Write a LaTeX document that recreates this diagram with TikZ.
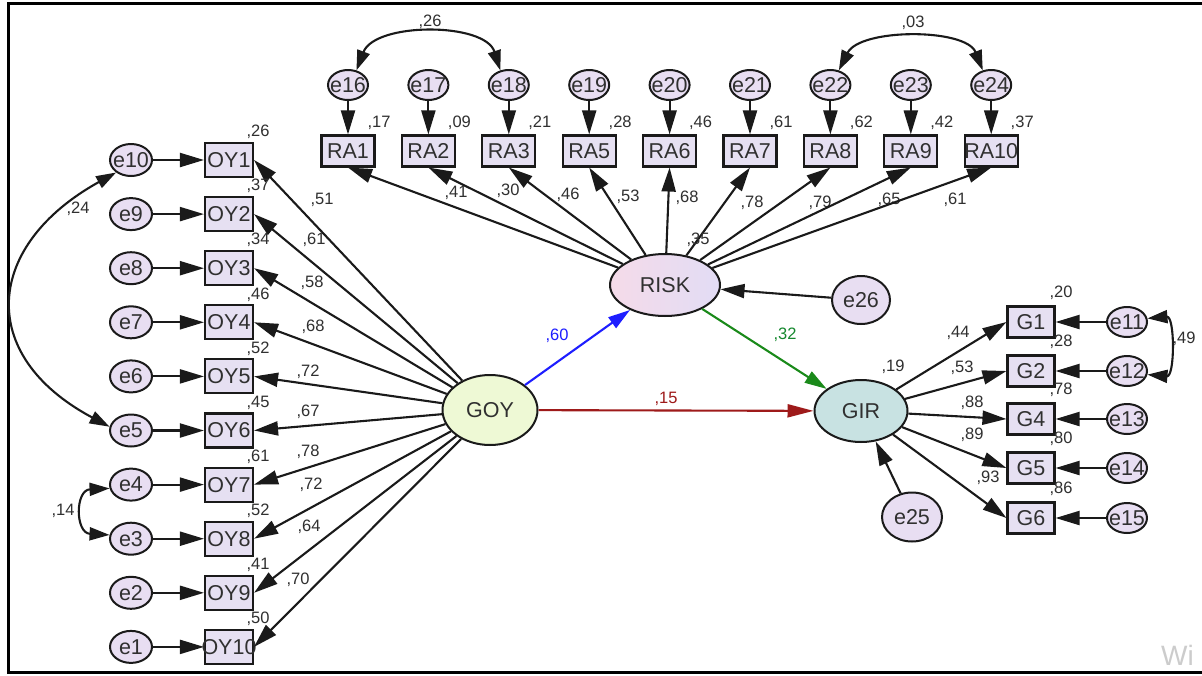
\documentclass[tikz,border=0pt]{standalone}
\usepackage{fontspec}
\setmainfont{Liberation Sans}
\usetikzlibrary{arrows.meta,shapes.geometric}
\definecolor{boxfill}{HTML}{E6E0F2}
\definecolor{errfill}{HTML}{E8DEF2}
\definecolor{goyfill}{HTML}{EEF9D5}
\definecolor{girfill}{HTML}{C8E2E2}
\definecolor{riskL}{HTML}{F5DBE9}
\definecolor{riskR}{HTML}{E2DCF5}
\definecolor{linec}{HTML}{1A1A1A}
\definecolor{txtc}{HTML}{303030}
\definecolor{bluec}{HTML}{1E1EFF}
\definecolor{greenc}{HTML}{1A8A1A}
\definecolor{redc}{HTML}{9E1A1A}
\newcommand\lblfont{\fontsize{21.5}{21.5}\selectfont}
\newcommand\valfont{\fontsize{16.5}{16.5}\selectfont}
\begin{document}
\begin{tikzpicture}[x=1pt,y=-1pt,
  obs/.style={draw=linec,line width=2.1pt,fill=boxfill,inner sep=0pt,
    minimum width=48pt,minimum height=34pt,font=\lblfont,text=txtc},
  err/.style={ellipse,draw=linec,line width=2pt,fill=errfill,inner sep=0pt,
    minimum width=42pt,minimum height=32pt,font=\lblfont,text=txtc},
  lat/.style={ellipse,draw=linec,line width=2pt,inner sep=0pt,font=\lblfont,text=txtc},
  val/.style={font=\valfont,text=txtc,inner sep=0pt},
  arr/.style={draw=linec,line width=2.1pt,-{Triangle[length=24pt,width=14pt]}},
  cov/.style={draw=linec,line width=2.1pt,{Triangle[length=20pt,width=13pt]}-{Triangle[length=20pt,width=13pt]}}
]
\useasboundingbox (0,0) rectangle (1202,675);
\clip (0,0) rectangle (1202,675);
\fill[white] (0,0) rectangle (1202,675);
\draw[line width=3pt,black] (8,3) rectangle (1220,672);
\node[font=\fontsize{28}{28}\selectfont,text=black!20,anchor=west,inner sep=0] (wm) at (1161,655) {Wi};

% latent variables
\node[lat,fill=goyfill,minimum width=95pt,minimum height=70pt] (goy) at (490,410) {GOY};
\node[lat,left color=riskL,right color=riskR,minimum width=110pt,minimum height=62pt] (risk) at (665,285) {RISK};
\node[lat,fill=girfill,minimum width=93pt,minimum height=62pt] (gir) at (861,411) {GIR};
\node[err,minimum width=58pt,minimum height=48pt] (e26) at (861,300) {\makebox[0pt]{e26}};
\node[err,minimum width=60pt,minimum height=49pt] (e25) at (912,517) {\makebox[0pt]{e25}};

% left column
\foreach \k/\v/\lx/\ly/\lv in {1/26/322/200/51,2/37/314/240/61,3/34/312/283/58,4/46/313/327/68,5/52/308/372/72,
  6/45/308/412/67,7/61/308/452/78,8/52/311/485/72,9/41/309/527/64,10/50/298/580/70}{
  \pgfmathsetmacro\yy{160+(\k-1)*54.1}
  \pgfmathtruncatemacro\ee{11-\k}
  \node[obs] (OY\k) at (229,\yy) {\makebox[0pt]{OY\k}};
  \node[err] (e\ee) at (131,\yy) {\makebox[0pt]{e\ee}};
  \node[val] (vOY\k) at (258,\yy-28) {,\v};
  \node[val] (lOY\k) at (\lx,\ly) {,\lv};
  \draw[arr] (e\ee) -- (OY\k);
  \draw[arr] (goy) -- (OY\k.east);
}

% top row
\foreach \i/\n/\ee/\v/\lx/\ly/\lv in {0/1/16/17/456/193/41,1/2/17/09/508/191/30,2/3/18/21/568/195/46,
  3/5/19/28/628/197/53,4/6/20/46/687/198/68,5/7/21/61/752/203/78,6/8/22/62/820/203/79,
  7/9/23/42/889/200/65,8/10/24/37/955/200/61}{
  \pgfmathsetmacro\xx{348+\i*80.4}
  \node[obs,minimum width=53pt,minimum height=31pt] (RA\n) at (\xx,151) {\makebox[0pt]{RA\n}};
  \node[err,minimum width=40pt,minimum height=30pt] (e\ee) at (\xx,85) {\makebox[0pt]{e\ee}};
  \node[val] (vRA\n) at (\xx+31,123) {,\v};
  \node[val] (lRA\n) at (\lx,\ly) {,\lv};
  \draw[arr] (e\ee) -- (RA\n);
  \draw[arr] (risk) -- (RA\n.south);
}

% right column
\foreach \n/\ee/\yy/\v/\lx/\ly/\lv in {1/11/322/20/958/333/44,2/12/371/28/962/368/53,4/13/419/78/972/403/88,
  5/14/468/80/972/435/89,6/15/518/86/988/478/93}{
  \node[obs,minimum width=47pt,minimum height=31pt] (G\n) at (1031,\yy) {\makebox[0pt]{G\n}};
  \node[err,minimum width=40pt,minimum height=30pt] (e\ee) at (1127,\yy) {\makebox[0pt]{e\ee}};
  \node[val] (vG\n) at (1061,\yy-29) {,\v};
  \node[val] (lG\n) at (\lx,\ly) {,\lv};
  \draw[arr] (e\ee) -- (G\n);
  \draw[arr] (gir) -- (G\n.west);
}

% structural paths
\draw[arr,draw=bluec,-{Triangle[length=22pt,width=13pt,fill=bluec]}] (goy) -- (risk);
\draw[arr,draw=redc,-{Triangle[length=26pt,width=13pt,fill=redc]}] (goy) -- (gir);
\draw[arr,draw=greenc,-{Triangle[length=22pt,width=13pt,fill=greenc]}] (risk) -- (gir);
\draw[arr] (e26) -- (risk);
\draw[arr] (e25) -- (gir);
\node[val,text=bluec] (l60) at (557,336) {,60};
\node[val,text=greenc!80!teal] (l32) at (785,335) {,32};
\node[val,text=redc] (l15) at (666,399) {,15};
\node[val] (v35) at (698,240) {,35};
\node[val] (v19) at (893,367) {,19};

% covariances
\draw[cov] (e10.220) .. controls (-15,245) and (-25,355) .. (e5.170);
\node[val] (c24) at (78,209) {,24};
\draw[cov] (e4.190) .. controls (75,490) and (75,533) .. (e3.170);
\node[val] (c14) at (63,511) {,14};
\draw[cov] (e16.60) .. controls (375,22) and (485,22) .. (e18.120);
\node[val] (c26) at (430,22) {,26};
\draw[cov] (e22.60) .. controls (860,28) and (966,28) .. (e24.120);
\node[val] (c03) at (913,23) {,03};
\draw[cov] (e11.10) .. controls (1175,316) and (1175,377) .. (e12.-10);
\node[val] (c49) at (1184,339) {,49};
\end{tikzpicture}
\end{document}
